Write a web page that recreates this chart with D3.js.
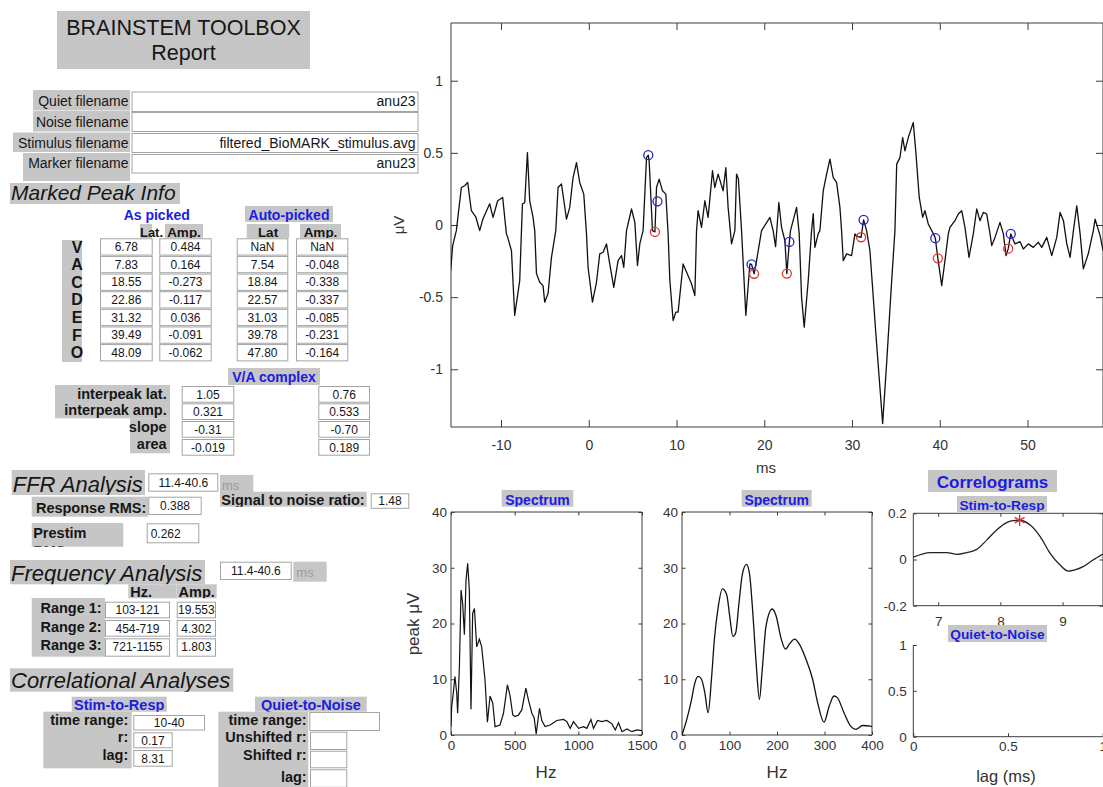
<!DOCTYPE html>
<html><head><meta charset="utf-8">
<script src="https://cdn.jsdelivr.net/npm/d3@7"></script>
<style>
body{margin:0;background:#fff;}
svg{display:block;font-family:"Liberation Sans",Arial,Helvetica,sans-serif;}
</style></head><body>
<svg id="fig" width="1103" height="787"></svg>
<script>
// ---------------- report values ----------------
const fileLabels = ["Quiet filename", "Noise filename", "Stimulus filename", "Marker filename"];
const fileValues = ["anu23", "", "filtered_BioMARK_stimulus.avg", "anu23"];

const peakLabels  = ["V", "A", "C", "D", "E", "F", "O"];
const asPickedLat = [6.78, 7.83, 18.55, 22.86, 31.32, 39.49, 48.09];
const asPickedAmp = [0.484, 0.164, -0.273, -0.117, 0.036, -0.091, -0.062];
const autoLat     = [NaN, 7.54, 18.84, 22.57, 31.03, 39.78, 47.80];
const autoAmp     = [NaN, -0.048, -0.338, -0.337, -0.085, -0.231, -0.164];

const complexLabels   = ["interpeak lat.", "interpeak amp.", "slope", "area"];
const complexAsPicked = ["1.05", "0.321", "-0.31", "-0.019"];
const complexAuto     = ["0.76", "0.533", "-0.70", "0.189"];

const ffrWindow = "11.4-40.6";
const responseRms = "0.388";
const prestimRms = "0.262";
const snr = "1.48";

const freqWindow = "11.4-40.6";
const rangeLabels = ["Range 1:", "Range 2:", "Range 3:"];
const rangeHz  = ["103-121", "454-719", "721-1155"];
const rangeAmp = ["19.553", "4.302", "1.803"];

const stimRespRange = "10-40";
const stimRespR = 0.17;
const stimRespLag = 8.31;

// ---------------- waveform (ms, µV) ----------------
const waveMs = [-15.74,-15.51,-15.09,-14.52,-14.14,-13.8,-13.38,-12.88,-12.43,-12.05,-11.29,-10.91,-10.38,-9.81,-9.39,-9.24,-8.81,-8.44,-7.87,-7.56,-7.3,-6.99,-6.73,-6.35,-6.16,-5.96,-5.59,-5.21,-5.02,-4.64,-4.25,-3.76,-3.5,-3.11,-2.54,-2.17,-1.79,-1.4,-1.03,-0.57,-0.26,-0.08,0.42,0.88,1.25,1.63,2.02,2.39,2.85,3.34,3.73,3.99,4.3,4.87,5.25,5.55,5.82,6.19,6.58,6.78,6.88,7.26,7.54,7.72,8.02,8.4,8.78,9.04,9.24,9.61,9.92,10.18,10.75,11.32,11.71,12.09,12.28,12.46,12.85,13.23,13.6,14.1,14.36,14.74,15.31,15.62,15.88,16.27,16.65,16.84,17.05,17.41,17.9,18.36,18.55,18.84,19.12,19.69,20.64,21.01,21.29,21.66,21.97,22.35,22.57,22.86,22.99,23.68,23.98,24.25,24.55,25.01,25.39,25.58,25.77,26.15,26.34,26.72,27.02,27.48,27.86,28.24,28.62,28.81,29.0,29.38,29.95,30.33,30.67,31.03,31.32,31.66,32.04,32.8,33.49,33.94,34.52,34.89,35.09,35.46,35.77,36.03,36.41,36.6,36.98,37.29,37.66,38.05,38.31,38.69,39.26,39.49,39.78,40.22,40.59,40.97,41.16,41.73,42.11,42.5,42.87,43.33,43.82,44.21,44.58,44.96,45.35,45.72,45.92,46.29,46.86,47.24,47.55,47.8,48.09,48.57,49.14,49.52,50.09,50.66,51.23,51.62,52.19,52.76,53.33,53.71,54.09,54.47,54.85,55.23,55.61,55.99,56.36,56.93,57.5,57.7,58.27,58.61];
const waveUv = [-0.316,-0.143,-0.039,0.26,0.272,0.295,0.099,0.057,-0.039,0.044,0.147,0.053,0.168,0.191,-0.06,-0.086,-0.178,-0.627,-0.385,0.147,0.154,0.502,0.168,0.053,-0.039,-0.337,-0.397,-0.42,-0.535,-0.475,-0.224,-0.039,0.26,0.284,0.041,0.122,0.329,0.433,0.295,0.214,-0.06,-0.293,-0.535,-0.397,-0.2,-0.189,-0.131,-0.27,-0.432,-0.247,-0.212,-0.293,-0.039,0.111,0.018,-0.281,-0.129,-0.039,0.467,0.484,0.445,-0.039,-0.048,0.26,0.318,0.237,0.214,-0.06,-0.385,-0.662,-0.604,-0.604,-0.27,-0.351,-0.408,-0.489,-0.039,0.099,-0.017,0.168,0.053,0.376,0.26,0.353,0.237,0.398,0.122,-0.131,-0.039,0.353,0.32,-0.039,-0.627,-0.27,-0.273,-0.338,-0.247,-0.039,0.053,-0.039,-0.15,0.156,-0.017,-0.109,-0.337,-0.117,-0.039,0.122,-0.06,-0.5,-0.708,-0.385,-0.039,0.078,-0.155,-0.06,-0.039,0.237,0.329,0.456,0.329,0.295,0.122,-0.039,-0.247,-0.2,-0.212,-0.062,-0.081,-0.085,0.036,-0.039,-0.178,-0.823,-1.376,-0.961,-0.385,-0.039,0.422,0.467,0.606,0.514,0.606,0.64,0.71,0.491,0.191,0.053,0.099,0.007,-0.06,-0.091,-0.231,-0.42,-0.247,-0.062,-0.017,0.03,0.076,0.099,-0.017,-0.224,-0.062,0.111,0.03,0.087,0.076,-0.06,-0.143,-0.086,0.018,-0.06,-0.212,-0.164,-0.062,-0.131,-0.115,-0.166,-0.131,-0.155,-0.12,-0.155,-0.086,-0.212,-0.086,0.087,0.03,-0.129,-0.224,-0.039,0.133,-0.06,-0.304,-0.198,-0.039,0.041,-0.074,-0.178];
const msTicks = [-10, 0, 10, 20, 30, 40, 50];
const uvTicks = [-1, -0.5, 0, 0.5, 1];

// ---------------- spectra (Hz, peak µV) ----------------
const spec1Hz  = [0,5,18,31,45,52,66,79,92,105,118,131,144,157,170,184,202,223,241,267,286,307,328,346,385,412,443,464,485,503,530,556,588,608,635,653,669,695,713,739,779,831,884,910,936,962,1002,1041,1067,1099,1119,1151,1185,1224,1264,1290,1316,1343,1382,1421,1460,1500];
const spec1Amp = [1.5,5,7.5,10.5,7.5,3.9,12.3,26,23.5,18,27.8,30.8,26,4.6,21.8,22.7,15.8,17.2,15.8,9.9,2.3,7,5.7,1.5,1.8,3.9,9,7,3.6,3.3,3.6,4.5,8.4,6.3,3.9,3.1,0.2,4.8,2.6,1.5,1.8,2.6,2.8,2.4,1.2,2.4,1.2,1.5,1.2,2.8,1.2,2.6,2.4,2.6,2.0,0.9,2.2,0.6,1.1,0.6,0.9,0.8];
const spec1Ticks = [0, 500, 1000, 1500];
const spec2Hz  = [0,9.8,20,27,34,41,48,55,62,68,76,85,94,100.5,107,113,120,127,135.5,142,149,156.5,163,169,177,190,198,209,218,226,237,247,261,275,285.5,299,310,320,327,341,355,366,380,397,400];
const spec2Amp = [0,2.7,6.3,9.3,10.5,10,7.6,4,10,17,22.8,26.2,25.2,21.3,17.7,18.3,23.7,28.8,30.6,29,22,12.4,6.4,11.8,19.6,22.6,21.4,17.2,15.4,16.3,17.2,16.3,13.6,10,5.8,2.3,5.2,7,6.7,4,1.6,1,1.7,1.6,1.5];
const spec2Ticks = [0, 100, 200, 300, 400];
const specAmpTicks = [0, 10, 20, 30, 40];

// ---------------- stimulus-to-response correlogram ----------------
const corrLag = [6.6,6.87,7.14,7.3,7.46,7.62,7.78,7.94,8.1,8.2,8.31,8.48,8.64,8.8,8.96,9.09,9.2,9.33,9.49,9.65];
const corrR   = [0.01,0.03,0.03,0.022,0.03,0.044,0.084,0.128,0.16,0.168,0.17,0.149,0.099,0.027,-0.024,-0.05,-0.045,-0.031,-0.002,0.024];
const corrLagTicks = [7, 8, 9];
const corrRTicks = [-0.2, 0, 0.2];
const qnLagTicks = [0, 0.5, 1];
const qnRTicks = [0, 0.5, 1];

// ---------------- drawing helpers ----------------
const svg = d3.select("#fig");
svg.append("rect").attr("width", 1103).attr("height", 787).attr("fill", "#fff");
const GRAY = "#c6c6c6", BLUE = "#1c1ce0", INK = "#161616", AX = "#3c3c3c", TICK = "#333";
const FIELD_BORDER = "#a4a4a4";
const fmt = d => String(d);
let clipCount = 0;

function rect(g, x, y, w, h, fill) {
  return g.append("rect").attr("x", x).attr("y", y).attr("width", w).attr("height", h).attr("fill", fill);
}

// a text control: optional background / edit-box frame, text clipped to the control
function ui(g, x, y, w, h, lines, o = {}) {
  if (o.bg) rect(g, x, y, w, h, o.bg);
  if (o.field) g.append("rect").attr("x", x + 0.5).attr("y", y + 0.5).attr("width", w - 1).attr("height", h - 1)
    .attr("fill", "#fff").attr("stroke", FIELD_BORDER).attr("stroke-width", 1);
  const id = "clip" + (clipCount++);
  g.append("clipPath").attr("id", id).append("rect").attr("x", x).attr("y", y).attr("width", w).attr("height", h);
  const t = g.append("g").attr("clip-path", `url(#${id})`);
  const size = o.size || 14;
  const anchor = o.align === "right" ? "end" : o.align === "left" ? "start" : "middle";
  const pad = o.pad ?? 3;
  const tx = o.align === "right" ? x + w - pad : o.align === "left" ? x + pad : x + w / 2;
  const base = o.base ?? (y + h / 2 + size * 0.36);
  (Array.isArray(lines) ? lines : [lines]).forEach((s, i) => {
    t.append("text").attr("x", tx).attr("y", base + i * (o.lh || 16)).attr("text-anchor", anchor)
      .attr("font-size", size).attr("font-weight", o.bold ? "bold" : null)
      .attr("font-style", o.italic ? "italic" : null).attr("fill", o.color || INK).text(s);
  });
}
function field(g, x, y, w, h, s, o = {}) {
  ui(g, x, y, w, h, s, Object.assign({ field: true, size: 12 }, o));
}
function styleAxis(a, size) {
  a.attr("font-family", null).attr("font-size", size);
  a.select(".domain").remove();
  a.selectAll(".tick line").attr("stroke", AX);
  a.selectAll(".tick text").attr("fill", TICK);
  return a;
}

// axes frame with inward ticks
function frame(xs, ys, xt, yt, o) {
  const g = svg.append("g");
  const [x0, x1] = xs.range(), [y0, y1] = ys.range();
  const tl = o.tl;
  styleAxis(g.append("g").attr("transform", `translate(0,${y0})`)
    .call(d3.axisBottom(xs).tickValues(xt).tickSize(-tl).tickPadding(o.xpad).tickFormat(fmt)), o.fs);
  styleAxis(g.append("g").attr("transform", `translate(${x0},0)`)
    .call(d3.axisLeft(ys).tickValues(yt).tickSize(-tl).tickPadding(o.ypad).tickFormat(fmt)), o.fs);
  const p = d3.path();
  p.moveTo(x0, y1); p.lineTo(x0, y0); p.lineTo(x1, y0);
  if (o.box) {
    styleAxis(g.append("g").attr("transform", `translate(0,${y1})`)
      .call(d3.axisTop(xs).tickValues(xt).tickSize(-tl).tickFormat("")), o.fs);
    styleAxis(g.append("g").attr("transform", `translate(${x1},0)`)
      .call(d3.axisRight(ys).tickValues(yt).tickSize(-tl).tickFormat("")), o.fs);
    p.lineTo(x1, y1); p.closePath();
  }
  g.append("path").attr("d", p.toString()).attr("fill", "none").attr("stroke", AX).attr("stroke-width", 1);
  const id = "clip" + (clipCount++);
  svg.append("clipPath").attr("id", id).append("rect")
    .attr("x", x0).attr("y", y1).attr("width", x1 - x0).attr("height", y0 - y1);
  return { g, clip: `url(#${id})` };
}

// ================= left panel =================
const L = svg.append("g");

ui(L, 57, 11, 253, 58, ["BRAINSTEM TOOLBOX", "Report"], { bg: GRAY, size: 21.5, base: 35, lh: 24.5 });

const fileRows = [
  { lx: 33, ly: 90, lw: 97, lh: 20.5, fy: 91.5, fh: 20.5, base: 106 },
  { lx: 33, ly: 111, lw: 97, lh: 20.5, fy: 112, fh: 20, base: 126.7 },
  { lx: 13, ly: 132.5, lw: 117, lh: 19.5, fy: 133, fh: 20, base: 148.3 },
  { lx: 23, ly: 153, lw: 107, lh: 28, fy: 154, fh: 19.5, base: 168.3 }
];
fileRows.forEach((r, i) => {
  ui(L, r.lx, r.ly, r.lw, r.lh, fileLabels[i], { bg: GRAY, align: "right", pad: 1.5, base: r.base });
  field(L, 131.5, r.fy, 287, r.fh, fileValues[i], { size: 14, align: "right", pad: 3, base: r.base });
});

// --- marked peak info
ui(L, 10, 183, 170, 21, "Marked Peak Info", { bg: GRAY, italic: true, size: 21, align: "left", pad: 1, base: 200 });
L.append("text").attr("x", 156.7).attr("y", 220).attr("text-anchor", "middle").attr("font-size", 14)
  .attr("font-weight", "bold").attr("fill", BLUE).text("As picked");
ui(L, 245, 206, 88, 16, "Auto-picked", { bg: GRAY, bold: true, size: 14, color: BLUE, base: 220 });
rect(L, 140, 224, 12, 14, GRAY);
L.append("text").attr("x", 151.5).attr("y", 236.7).attr("text-anchor", "middle").attr("font-size", 13)
  .attr("font-weight", "bold").attr("fill", INK).text("Lat.");
ui(L, 165, 224, 38, 14, "Amp.", { bg: GRAY, bold: true, size: 13.5, base: 236.7 });
ui(L, 246.7, 224, 42.6, 14, "Lat", { bg: GRAY, bold: true, size: 13.5, base: 236.7 });
ui(L, 300, 224, 41, 14, "Amp.", { bg: GRAY, bold: true, size: 13.5, base: 236.7 });

rect(L, 62, 240, 20, 122, GRAY);
const fmtLat = v => isNaN(v) ? "NaN" : v.toFixed(2);
const fmtAmp = v => isNaN(v) ? "NaN" : v.toFixed(3);
peakLabels.forEach((lab, i) => {
  const top = 238.3 + 17.63 * i;
  L.append("text").attr("x", 77).attr("y", top + 14.3).attr("text-anchor", "middle").attr("font-size", 16)
    .attr("font-weight", "bold").attr("fill", INK).text(lab);
  field(L, 100, top, 52.7, 17.3, fmtLat(asPickedLat[i]), { base: top + 12.7 });
  field(L, 159.3, top, 52.4, 17.3, fmtAmp(asPickedAmp[i]), { base: top + 12.7 });
  field(L, 236.7, top, 51.6, 17.3, fmtLat(autoLat[i]), { base: top + 12.7 });
  field(L, 296, top, 52.3, 17.3, fmtAmp(autoAmp[i]), { base: top + 12.7 });
});

// --- V/A complex
ui(L, 228, 368, 92, 17, "V/A complex", { bg: GRAY, bold: true, size: 14, color: BLUE, base: 381.7 });
rect(L, 55, 385, 115, 33.3, GRAY);
rect(L, 130, 418.3, 40, 35, GRAY);
const cxRows = [{ y: 385, h: 16, base: 399.3 }, { y: 401, h: 17.3, base: 415 },
                { y: 418.3, h: 17, base: 431.7 }, { y: 435.3, h: 18, base: 449.3 }];
const cxCells = [386, 403.3, 421, 439];
complexLabels.forEach((lab, i) => {
  const r = cxRows[i];
  ui(L, 55, r.y, 115, r.h, lab, { bold: true, size: 14.5, align: "right", pad: 3.3, base: r.base });
  field(L, 181.7, cxCells[i], 52.6, 16.7, complexAsPicked[i], { base: cxCells[i] + 12.6 });
  field(L, 318.3, cxCells[i], 51.7, 16.7, complexAuto[i], { base: cxCells[i] + 12.6 });
});

// --- FFR analysis
ui(L, 11.7, 470, 133.3, 25, "FFR Analysis", { bg: GRAY, italic: true, size: 22, align: "left", pad: 1, base: 491.7 });
field(L, 148.3, 473.3, 70, 18.4, ffrWindow, { base: 486.5 });
ui(L, 220, 475, 33.3, 20, "ms", { bg: GRAY, size: 13, color: "#9c9c9c", align: "left", pad: 2, base: 489.5 });
ui(L, 31.7, 496.7, 116.6, 20, "Response RMS:", { bg: GRAY, bold: true, size: 14.5, align: "right", pad: 2, base: 513.3 });
field(L, 148.3, 496.7, 53.4, 18.3, responseRms, { base: 510.2 });
ui(L, 220, 491.7, 146.7, 15, "Signal to noise ratio:", { bg: GRAY, bold: true, size: 14.5, align: "right", pad: 2, base: 505 });
field(L, 370.7, 493.3, 38.6, 15.5, snr, { base: 505.2 });
ui(L, 31.7, 523, 91.6, 23.7, ["Prestim", "RMS"], { bg: GRAY, bold: true, size: 14.5, align: "left", pad: 1.5, base: 538.3, lh: 17.4 });
field(L, 146.7, 523.3, 52.6, 20, prestimRms, { align: "left", pad: 4, base: 537.5 });

// --- frequency analysis
ui(L, 10, 560, 195, 24.3, "Frequency Analysis", { bg: GRAY, italic: true, size: 22, align: "left", pad: 1, base: 581.4 });
field(L, 220, 561.7, 71.7, 18.3, freqWindow, { base: 574.8 });
ui(L, 293.3, 561.7, 33.4, 20, "ms", { bg: GRAY, size: 13, color: "#9c9c9c", align: "left", pad: 3, base: 576.5 });
ui(L, 128.3, 584.3, 48.4, 14, "Hz.", { bg: GRAY, bold: true, size: 14.5, align: "left", pad: 2, base: 596.6 });
ui(L, 176.7, 584.3, 40, 14, "Amp.", { bg: GRAY, bold: true, size: 14.5, base: 596.6 });
rect(L, 31.7, 598, 73.3, 58.7, GRAY);
const rangeRows = [{ y: 601.7, h: 16.6, base: 613.3 }, { y: 620, h: 16.7, base: 631.7 }, { y: 638.3, h: 18.4, base: 650 }];
rangeLabels.forEach((lab, i) => {
  const r = rangeRows[i];
  L.append("text").attr("x", 101.7).attr("y", r.base).attr("text-anchor", "end").attr("font-size", 14.5)
    .attr("font-weight", "bold").attr("fill", INK).text(lab);
  field(L, 105, r.y, 65, r.h, rangeHz[i], { base: r.y + 12.6 });
  field(L, 176.7, r.y, 39.3, r.h, rangeAmp[i], { base: r.y + 12.6 });
});

// --- correlational analyses
ui(L, 10, 668.3, 223.3, 23.4, "Correlational Analyses", { bg: GRAY, italic: true, size: 22, align: "left", pad: 1, base: 688.3 });
ui(L, 71.7, 696.7, 95, 15, "Stim-to-Resp", { bg: GRAY, bold: true, size: 14.5, color: BLUE, base: 710 });
rect(L, 43.3, 711.7, 88.4, 56.6, GRAY);
[["time range:", 725], ["r:", 742.3], ["lag:", 760]].forEach(([s, b]) =>
  L.append("text").attr("x", 128.3).attr("y", b).attr("text-anchor", "end").attr("font-size", 14.5)
    .attr("font-weight", "bold").attr("fill", INK).text(s));
field(L, 133.3, 715, 71.7, 15.5, stimRespRange, { base: 727.3 });
field(L, 133.3, 732.3, 39.4, 16, stimRespR.toFixed(2), { base: 745 });
field(L, 133.3, 750, 39.4, 16.7, stimRespLag.toFixed(2), { base: 763 });

ui(L, 255, 696.7, 111.7, 15, "Quiet-to-Noise", { bg: GRAY, bold: true, size: 14.5, color: BLUE, base: 710 });
rect(L, 218.3, 711.7, 90, 76, GRAY);
[["time range:", 725], ["Unshifted r:", 742.3], ["Shifted r:", 760], ["lag:", 781.7]].forEach(([s, b]) =>
  L.append("text").attr("x", 306.7).attr("y", b).attr("text-anchor", "end").attr("font-size", 14.5)
    .attr("font-weight", "bold").attr("fill", INK).text(s));
field(L, 309.3, 712, 70.7, 19, "");
field(L, 310, 731.7, 37.3, 18.3, "");
field(L, 310, 750.7, 37.3, 17.6, "");
field(L, 310, 769.3, 37.3, 18.5, "");

// ================= main waveform =================
const xM = d3.scaleLinear().domain([-15.7, 58.6]).range([451, 1103]);
const yM = d3.scaleLinear().domain([-1.4, 1.4]).range([427, 23]);
const main = frame(xM, yM, msTicks, uvTicks, { tl: 7, xpad: 13, ypad: 8, fs: 14, box: true });
const wave = waveMs.map((t, i) => [t, waveUv[i]]);
main.g.append("path").attr("clip-path", main.clip)
  .attr("d", d3.line().x(d => xM(d[0])).y(d => yM(d[1]))(wave))
  .attr("fill", "none").attr("stroke", "#111").attr("stroke-width", 1.3).attr("stroke-linejoin", "round");
const autoPts = autoLat.map((t, i) => [t, autoAmp[i]]).filter(d => !isNaN(d[0]));
const pickPts = asPickedLat.map((t, i) => [t, asPickedAmp[i]]);
main.g.selectAll("circle.auto").data(autoPts).join("circle").attr("class", "auto")
  .attr("cx", d => xM(d[0])).attr("cy", d => yM(d[1])).attr("r", 4.5)
  .attr("fill", "none").attr("stroke", "#e2372f").attr("stroke-width", 1.3);
main.g.selectAll("circle.pick").data(pickPts).join("circle").attr("class", "pick")
  .attr("cx", d => xM(d[0])).attr("cy", d => yM(d[1])).attr("r", 4.5)
  .attr("fill", "none").attr("stroke", "#2323cc").attr("stroke-width", 1.3);
svg.append("text").attr("transform", "translate(404,225) rotate(-90)").attr("text-anchor", "middle")
  .attr("font-size", 15).attr("fill", TICK).text("μV");
svg.append("text").attr("x", 766).attr("y", 473).attr("text-anchor", "middle")
  .attr("font-size", 15).attr("fill", TICK).text("ms");

// ================= spectra =================
const yS = d3.scaleLinear().domain([0, 40]).range([735, 512]);
const xS1 = d3.scaleLinear().domain([0, 1500]).range([451, 642]);
const xS2 = d3.scaleLinear().domain([0, 400]).range([682, 872]);
const s1 = frame(xS1, yS, spec1Ticks, specAmpTicks, { tl: 3.5, xpad: 5, ypad: 4, fs: 13.5, box: true });
s1.g.append("path").attr("clip-path", s1.clip)
  .attr("d", d3.line().x((d, i) => xS1(spec1Hz[i])).y(d => yS(d))(spec1Amp))
  .attr("fill", "none").attr("stroke", "#111").attr("stroke-width", 1.2);
const s2 = frame(xS2, yS, spec2Ticks, specAmpTicks, { tl: 3.5, xpad: 5, ypad: 4, fs: 13.5, box: true });
s2.g.append("path").attr("clip-path", s2.clip)
  .attr("d", d3.line().curve(d3.curveMonotoneX).x((d, i) => xS2(spec2Hz[i])).y(d => yS(d))(spec2Amp))
  .attr("fill", "none").attr("stroke", "#111").attr("stroke-width", 1.3);
ui(svg, 501.7, 490, 71.6, 16.7, "Spectrum", { bg: GRAY, bold: true, size: 14, color: BLUE, base: 504.5 });
ui(svg, 741.7, 490, 70, 16.7, "Spectrum", { bg: GRAY, bold: true, size: 14, color: BLUE, base: 504.5 });
svg.append("text").attr("transform", "translate(419,624) rotate(-90)").attr("text-anchor", "middle")
  .attr("font-size", 17).attr("fill", TICK).text("peak μV");
svg.append("text").attr("x", 546).attr("y", 778).attr("text-anchor", "middle").attr("font-size", 17).attr("fill", TICK).text("Hz");
svg.append("text").attr("x", 777).attr("y", 778).attr("text-anchor", "middle").attr("font-size", 17).attr("fill", TICK).text("Hz");

// ================= correlograms =================
const xC = d3.scaleLinear().domain([6.6, 9.65]).range([913.3, 1103]);
const yC = d3.scaleLinear().domain([-0.2, 0.2]).range([605.7, 513.3]);
const c1 = frame(xC, yC, corrLagTicks, corrRTicks, { tl: 3.5, xpad: 11, ypad: 6.5, fs: 13.5, box: true });
c1.g.append("path").attr("clip-path", c1.clip)
  .attr("d", d3.line().curve(d3.curveMonotoneX).x((d, i) => xC(corrLag[i])).y(d => yC(d))(corrR))
  .attr("fill", "none").attr("stroke", "#222").attr("stroke-width", 1.3);
c1.g.append("path").attr("transform", `translate(${xC(stimRespLag)},${yC(stimRespR)})`)
  .attr("d", d3.symbol(d3.symbolAsterisk, 90)()).attr("fill", "none").attr("stroke", "#e02a2a").attr("stroke-width", 1.3);

const xQ = d3.scaleLinear().domain([0, 1]).range([913.3, 1102.7]);
const yQ = d3.scaleLinear().domain([0, 1]).range([736.7, 645]);
frame(xQ, yQ, qnLagTicks, qnRTicks, { tl: 3.5, xpad: 5, ypad: 6.5, fs: 13.5, box: false });
svg.append("text").attr("x", 1006).attr("y", 781.5).attr("text-anchor", "middle").attr("font-size", 16.5).attr("fill", TICK).text("lag (ms)");

ui(svg, 928, 470, 129, 22, "Correlograms", { bg: GRAY, bold: true, size: 17, color: BLUE, base: 488 });
ui(svg, 957, 496, 90, 16, "Stim-to-Resp", { bg: GRAY, bold: true, size: 13.7, color: BLUE, base: 509.5 });
ui(svg, 948, 625, 99, 17, "Quiet-to-Noise", { bg: GRAY, bold: true, size: 13.7, color: BLUE, base: 639 });
</script>
</body></html>
